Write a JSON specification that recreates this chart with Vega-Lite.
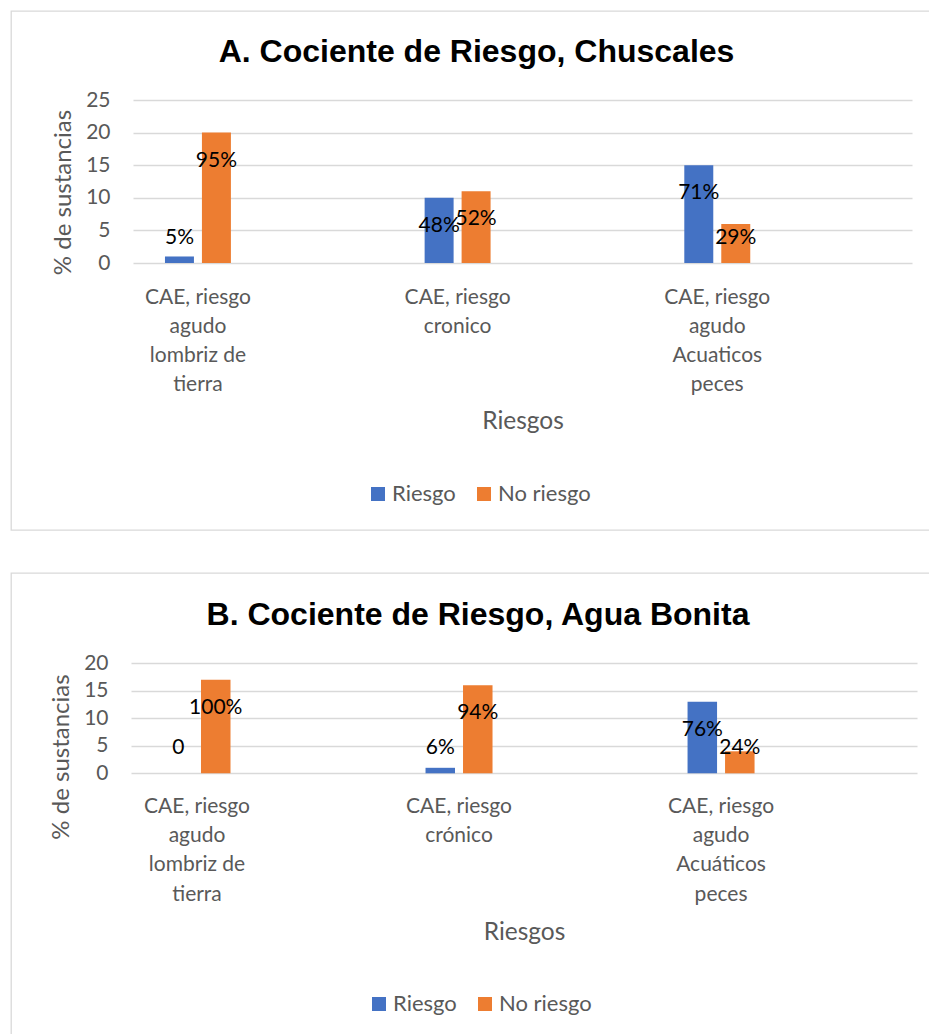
{
  "$schema": "https://vega.github.io/schema/vega-lite/v6.json",
  "background": "white",
  "padding": {"left": 10, "top": 10, "right": 0, "bottom": 0},
  "spacing": 41,
  "config": {
    "view": {"stroke": "#d9d9d9", "strokeWidth": 1.3},
    "font": "Lato",
    "text": {"font": "Lato", "fontSize": 21, "color": "#000000"}
  },
  "resolve": {
    "scale": {"xOffset": "independent", "color": "independent"},
    "legend": {"color": "independent"}
  },
  "vconcat": [
    {
      "width": 924,
      "height": 519,
      "title": {
        "text": "A. Cociente de Riesgo, Chuscales",
        "font": "Liberation Sans",
        "fontSize": 32,
        "fontWeight": "bold",
        "color": "#000000",
        "anchor": "middle",
        "frame": "group",
        "baseline": "alphabetic",
        "offset": -83,
        "dx": 3.5
      },
      "data": {
        "values": [
          {"riesgo": "CAE, riesgo|agudo|lombriz de|tierra", "serie": "Riesgo", "n": 1, "etiqueta": "5%"},
          {"riesgo": "CAE, riesgo|agudo|lombriz de|tierra", "serie": "No riesgo", "n": 20, "etiqueta": "95%"},
          {"riesgo": "CAE, riesgo|cronico", "serie": "Riesgo", "n": 10, "etiqueta": "48%"},
          {"riesgo": "CAE, riesgo|cronico", "serie": "No riesgo", "n": 11, "etiqueta": "52%"},
          {"riesgo": "CAE, riesgo|agudo|Acuaticos|peces", "serie": "Riesgo", "n": 15, "etiqueta": "71%"},
          {"riesgo": "CAE, riesgo|agudo|Acuaticos|peces", "serie": "No riesgo", "n": 6, "etiqueta": "29%"}
        ]
      },
      "encoding": {
        "x": {
          "field": "riesgo",
          "type": "nominal",
          "sort": null,
          "scale": {"range": [122, 901], "paddingInner": 0.746, "paddingOuter": 0.373, "align": 0.165},
          "axis": {
            "title": "Riesgos",
            "titleFont": "Lato",
            "titleFontSize": 24.5,
            "titleFontWeight": "normal",
            "titleColor": "#595959",
            "titleY": 158,
            "titleBaseline": "middle",
            "offset": -267,
            "domain": false,
            "ticks": false,
            "tickSize": 0,
            "grid": false,
            "labelAngle": 0,
            "labelExpr": "split(datum.label, '|')",
            "labelFont": "Lato",
            "labelFontSize": 21,
            "labelColor": "#595959",
            "labelLineHeight": 29.3,
            "labelBaseline": "alphabetic",
            "labelPadding": 40
          }
        },
        "xOffset": {
          "field": "serie",
          "type": "nominal",
          "scale": {"domain": ["Riesgo", "No riesgo"], "paddingInner": 0.2162, "paddingOuter": 0}
        },
        "y": {
          "field": "n",
          "type": "quantitative",
          "scale": {"domain": [0, 25], "range": [252, 89], "nice": false},
          "axis": {
            "title": "% de sustancias",
            "values": [0, 5, 10, 15, 20, 25],
            "offset": -122,
            "domain": false,
            "ticks": false,
            "tickSize": 0,
            "labelPadding": 23,
            "labelFont": "Lato",
            "labelFontSize": 21,
            "labelColor": "#595959",
            "gridColor": "#d9d9d9",
            "gridWidth": 1.3,
            "titleFont": "Lato",
            "titleFontSize": 24,
            "titleFontWeight": "normal",
            "titleColor": "#595959",
            "titleX": -69.5,
            "titleY": 181,
            "titleBaseline": "middle"
          }
        }
      },
      "layer": [
        {
          "mark": {"type": "bar"},
          "encoding": {
            "color": {
              "field": "serie",
              "type": "nominal",
              "scale": {"domain": ["Riesgo", "No riesgo"], "range": ["#4472C4", "#ED7D31"]},
              "legend": {
                "title": null,
                "orient": "none",
                "legendX": 356,
                "legendY": 472,
                "direction": "horizontal",
                "symbolType": "square",
                "symbolSize": 196,
                "symbolStrokeWidth": 0,
                "labelFont": "Lato",
                "labelFontSize": 22,
                "labelColor": "#595959",
                "labelOffset": 3,
                "columnPadding": 17,
                "padding": 0
              }
            }
          }
        },
        {
          "transform": [{"filter": "datum.n >= 8"}],
          "mark": {"type": "text", "baseline": "middle", "dy": 28},
          "encoding": {"text": {"field": "etiqueta"}}
        },
        {
          "transform": [{"filter": "datum.n < 8"}],
          "mark": {"type": "text", "baseline": "middle", "dy": -25},
          "encoding": {"y": {"datum": 0, "type": "quantitative"}, "text": {"field": "etiqueta"}}
        }
      ]
    },
    {
      "width": 924,
      "height": 467,
      "title": {
        "text": "B. Cociente de Riesgo, Agua Bonita",
        "font": "Liberation Sans",
        "fontSize": 32,
        "fontWeight": "bold",
        "color": "#000000",
        "anchor": "middle",
        "frame": "group",
        "baseline": "alphabetic",
        "offset": -84,
        "dx": 5
      },
      "data": {
        "values": [
          {"riesgo": "CAE, riesgo|agudo|lombriz de|tierra", "serie": "Riesgo", "n": 0, "etiqueta": "0"},
          {"riesgo": "CAE, riesgo|agudo|lombriz de|tierra", "serie": "No riesgo", "n": 17, "etiqueta": "100%"},
          {"riesgo": "CAE, riesgo|crónico", "serie": "Riesgo", "n": 1, "etiqueta": "6%"},
          {"riesgo": "CAE, riesgo|crónico", "serie": "No riesgo", "n": 16, "etiqueta": "94%"},
          {"riesgo": "CAE, riesgo|agudo|Acuáticos|peces", "serie": "Riesgo", "n": 13, "etiqueta": "76%"},
          {"riesgo": "CAE, riesgo|agudo|Acuáticos|peces", "serie": "No riesgo", "n": 4, "etiqueta": "24%"}
        ]
      },
      "encoding": {
        "x": {
          "field": "riesgo",
          "type": "nominal",
          "sort": null,
          "scale": {"range": [120, 906], "paddingInner": 0.7443, "paddingOuter": 0.372, "align": 0.1667},
          "axis": {
            "title": "Riesgos",
            "titleFont": "Lato",
            "titleFontSize": 24.5,
            "titleFontWeight": "normal",
            "titleColor": "#595959",
            "titleY": 158.7,
            "titleBaseline": "middle",
            "offset": -266.7,
            "domain": false,
            "ticks": false,
            "tickSize": 0,
            "grid": false,
            "labelAngle": 0,
            "labelExpr": "split(datum.label, '|')",
            "labelFont": "Lato",
            "labelFontSize": 21,
            "labelColor": "#595959",
            "labelLineHeight": 29.3,
            "labelBaseline": "alphabetic",
            "labelPadding": 39
          }
        },
        "xOffset": {
          "field": "serie",
          "type": "nominal",
          "scale": {"domain": ["Riesgo", "No riesgo"], "paddingInner": 0.213, "paddingOuter": 0}
        },
        "y": {
          "field": "n",
          "type": "quantitative",
          "scale": {"domain": [0, 20], "range": [200.3, 90.3], "nice": false},
          "axis": {
            "title": "% de sustancias",
            "values": [0, 5, 10, 15, 20],
            "offset": -120,
            "domain": false,
            "ticks": false,
            "tickSize": 0,
            "labelPadding": 23,
            "labelFont": "Lato",
            "labelFontSize": 21,
            "labelColor": "#595959",
            "gridColor": "#d9d9d9",
            "gridWidth": 1.3,
            "titleFont": "Lato",
            "titleFontSize": 24,
            "titleFontWeight": "normal",
            "titleColor": "#595959",
            "titleX": -70,
            "titleY": 183.5,
            "titleBaseline": "middle"
          }
        }
      },
      "layer": [
        {
          "mark": {"type": "bar"},
          "encoding": {
            "color": {
              "field": "serie",
              "type": "nominal",
              "scale": {"domain": ["Riesgo", "No riesgo"], "range": ["#4472C4", "#ED7D31"]},
              "legend": {
                "title": null,
                "orient": "none",
                "legendX": 357,
                "legendY": 420,
                "direction": "horizontal",
                "symbolType": "square",
                "symbolSize": 196,
                "symbolStrokeWidth": 0,
                "labelFont": "Lato",
                "labelFontSize": 22,
                "labelColor": "#595959",
                "labelOffset": 3,
                "columnPadding": 17,
                "padding": 0
              }
            }
          }
        },
        {
          "transform": [{"filter": "datum.n >= 10"}],
          "mark": {"type": "text", "baseline": "middle", "dy": 28},
          "encoding": {"text": {"field": "etiqueta"}}
        },
        {
          "transform": [{"filter": "datum.n < 10"}],
          "mark": {"type": "text", "baseline": "middle", "dy": -25},
          "encoding": {"y": {"datum": 0, "type": "quantitative"}, "text": {"field": "etiqueta"}}
        }
      ]
    }
  ]
}
